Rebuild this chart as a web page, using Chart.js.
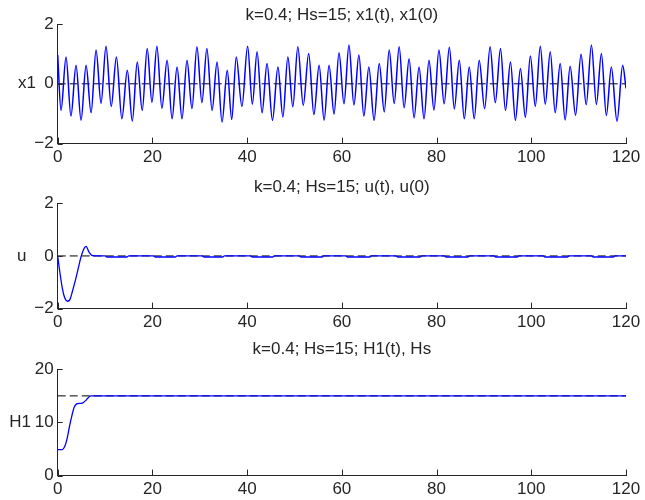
<!DOCTYPE html>
<html><head><meta charset="utf-8">
<script src="https://cdn.jsdelivr.net/npm/chart.js@4"></script>
<style>
html,body{margin:0;padding:0;background:#fff;width:645px;height:500px;overflow:hidden}
canvas{position:absolute;left:0}
</style></head><body>
<canvas id="c1" style="top:0px" width="645" height="172"></canvas>
<canvas id="c2" style="top:177px" width="645" height="160"></canvas>
<canvas id="c3" style="top:339px" width="645" height="165"></canvas>
<script>
// ---------- data ----------
const xTicks = [0, 20, 40, 60, 80, 100, 120];

const titles = ['k=0.4; Hs=15; x1(t), x1(0)', 'k=0.4; Hs=15; u(t), u(0)', 'k=0.4; Hs=15; H1(t), Hs'];
const yLabels = ['x1', 'u', 'H1'];

// x1(t): extrema of the oscillation (time, value)
const x1Time = [
  0, 0.7, 1.76, 2.8, 3.87, 4.93, 5.99, 7.05, 8.1, 9.15,
  10.2, 11.3, 12.4, 13.55, 14.7, 15.75, 16.8, 17.85, 18.9, 19.9,
  20.95, 22.0, 23.1, 24.15, 25.2, 26.25, 27.3, 28.35, 29.4, 30.45,
  31.5, 32.6, 33.65, 34.7, 35.8, 36.75, 37.7, 38.9, 40.1, 41.1,
  42.1, 43.15, 44.2, 45.35, 46.5, 47.55, 48.6, 49.65, 50.7, 51.85,
  53.0, 54.1, 55.2, 56.25, 57.3, 58.35, 59.4, 60.45, 61.5, 62.55,
  63.6, 64.65, 65.7, 66.8, 67.9, 68.95, 70.0, 71.05, 72.1, 73.15,
  74.2, 75.25, 76.3, 77.35, 78.4, 79.45, 80.5, 81.6, 82.7, 83.75,
  84.8, 85.85, 86.9, 87.95, 89.0, 90.15, 91.3, 92.4, 93.5, 94.55,
  95.6, 96.65, 97.7, 98.75, 99.8, 100.85, 101.9, 102.95, 104.0, 105.05,
  106.1, 107.15, 108.2, 109.35, 110.5, 111.6, 112.7, 113.75, 114.8, 115.85,
  116.9, 118.1, 119.3, 120
];
const x1Value = [
  0.96, -0.89, 0.90, -1.08, 0.62, -1.22, 0.62, -0.97, 1.13, -0.65,
  1.26, -0.76, 0.90, -1.17, 0.45, -1.25, 0.73, -0.89, 1.18, -0.62,
  1.26, -0.82, 0.79, -1.17, 0.56, -1.17, 0.79, -0.83, 1.24, -0.63,
  1.18, -0.89, 0.73, -1.28, 0.45, -1.19, 0.90, -0.76, 1.26, -0.68,
  1.07, -0.97, 0.68, -1.22, 0.56, -1.11, 0.90, -0.77, 1.24, -0.72,
  1.01, -1.03, 0.62, -1.22, 0.62, -1.01, 1.04, -0.67, 1.30, -0.71,
  0.96, -1.08, 0.56, -1.22, 0.68, -0.94, 1.13, -0.66, 1.24, -0.80,
  0.84, -1.14, 0.56, -1.17, 0.79, -0.88, 1.13, -0.67, 1.22, -0.84,
  0.79, -1.17, 0.56, -1.17, 0.79, -0.83, 1.24, -0.63, 1.18, -0.89,
  0.73, -1.22, 0.51, -1.12, 0.93, -0.75, 1.26, -0.68, 1.07, -0.97,
  0.68, -1.21, 0.59, -1.05, 0.99, -0.70, 1.30, -0.69, 1.01, -1.06,
  0.56, -1.25, 0.62, -0.15
];
const x1Ref = 0;

// u(t)
const uTime = [
  0, 0.4, 1.0, 1.5, 2.1, 2.6, 3.1, 3.7, 4.3, 4.9,
  5.4, 6.0, 6.6, 7.2, 8.0, 10.0, 10.4, 14.6, 15.0, 20.2,
  20.6, 24.8, 25.2, 30.5, 30.9, 34.8, 35.2, 40.7, 41.1, 45.4,
  45.8, 51.0, 51.4, 55.8, 56.2, 60.8, 61.2, 65.9, 66.3, 71.4,
  71.8, 76.5, 76.9, 81.6, 82.0, 86.6, 87.0, 92.1, 92.5, 97.0,
  97.4, 102.5, 102.9, 107.6, 108.0, 112.7, 113.1, 117.3, 117.7, 120
];
const uValue = [
  0, -0.55, -1.25, -1.6, -1.72, -1.65, -1.35, -0.95, -0.5, -0.05,
  0.22, 0.36, 0.15, 0.02, 0, 0, -0.04, -0.04, 0, 0,
  -0.04, -0.04, 0, 0, -0.04, -0.04, 0, 0, -0.04, -0.04,
  0, 0, -0.04, -0.04, 0, 0, -0.04, -0.04, 0, 0,
  -0.04, -0.04, 0, 0, -0.04, -0.04, 0, 0, -0.04, -0.04,
  0, 0, -0.04, -0.04, 0, 0, -0.04, -0.04, 0, 0
];
const uRef = 0;

// H1(t)
const hTime = [0, 1.0, 1.5, 2.0, 2.5, 3.0, 3.5, 4.0, 4.5, 5.0, 5.5, 6.0, 6.5, 7.0, 120];
const hValue = [4.9, 4.9, 5.5, 7.0, 9.3, 11.3, 12.9, 13.5, 13.6, 13.6, 13.8, 14.2, 14.7, 15.0, 15.0];
const hsRef = 15;

// ---------- styling / helpers ----------
const FONT = "'Liberation Sans', Arial, Helvetica, sans-serif";
const INK = '#262626';
const BLUE = '#0000ff';

const innerTicks = {
  id: 'innerTicks',
  afterDatasetsDraw(chart) {
    const ctx = chart.ctx, a = chart.chartArea;
    const xs = chart.scales.x, ys = chart.scales.y;
    ctx.save();
    ctx.strokeStyle = INK; ctx.lineWidth = 1;
    ctx.beginPath();
    xs.ticks.forEach(t => {
      const p = Math.round(xs.getPixelForValue(t.value)) + 0.5;
      ctx.moveTo(p, a.bottom); ctx.lineTo(p, a.bottom - 6);
    });
    ys.ticks.forEach(t => {
      const p = Math.round(ys.getPixelForValue(t.value)) + 0.5;
      ctx.moveTo(a.left, p); ctx.lineTo(a.left + 5, p);
    });
    ctx.stroke();
    ctx.restore();
  }
};

const yLabelPlugin = {
  id: 'ylabel',
  afterDraw(chart, args, opts) {
    const ctx = chart.ctx, a = chart.chartArea;
    ctx.save();
    ctx.fillStyle = INK;
    ctx.font = '17px ' + FONT;
    ctx.textAlign = 'center';
    ctx.textBaseline = 'middle';
    ctx.fillText(opts.text, opts.x, (a.top + a.bottom) / 2);
    ctx.restore();
  }
};

function pts(ts, vs) { return ts.map((t, i) => ({x: t, y: vs[i]})); }

function makeChart(id, p) {
  new Chart(document.getElementById(id), {
    type: 'line',
    data: {
      datasets: [
        {data: pts(p.t, p.v), borderColor: BLUE, borderWidth: p.lw, pointRadius: 0,
         cubicInterpolationMode: 'monotone', fill: false},
        {data: [{x: xTicks[0], y: p.ref}, {x: xTicks[xTicks.length - 1], y: p.ref}],
         borderColor: '#000', borderWidth: 1, borderDash: [8, 4], pointRadius: 0, fill: false}
      ]
    },
    options: {
      responsive: false, animation: false, devicePixelRatio: 1,
      layout: {padding: {left: 0, right: 19, top: 0, bottom: 0}},
      plugins: {
        legend: {display: false}, tooltip: {enabled: false},
        title: {display: true, text: p.title, fullSize: false, color: INK,
                font: {family: FONT, size: 17, weight: 'normal', lineHeight: 1.0},
                padding: {top: p.pt, bottom: p.pb}},
        ylabel: {text: p.ylabel, x: p.lx}
      },
      scales: {
        x: {type: 'linear', min: 0, max: 120,
            afterBuildTicks: s => { s.ticks = xTicks.map(v => ({value: v})); },
            ticks: {color: INK, font: {family: FONT, size: 17}, padding: 4, maxRotation: 0},
            grid: {display: false, drawTicks: false},
            border: {display: true, color: INK, width: 1}},
        y: {type: 'linear', min: p.yTicks[0], max: p.yTicks[p.yTicks.length - 1],
            afterBuildTicks: s => { s.ticks = p.yTicks.map(v => ({value: v})); },
            afterFit: s => { s.width = 57.7; },
            ticks: {color: INK, font: {family: FONT, size: 17}, padding: 4,
                    callback: v => v < 0 ? '\u2212' + Math.abs(v) : String(v)},
            grid: {display: false, drawTicks: false},
            border: {display: true, color: INK, width: 1}}
      }
    },
    plugins: [innerTicks, yLabelPlugin]
  });
}

makeChart('c1', {t: x1Time, v: x1Value, ref: x1Ref, yTicks: [-2, 0, 2], title: titles[0],
  ylabel: yLabels[0], lx: 27, pt: 7, pb: 0, lw: 1.5});
makeChart('c2', {t: uTime, v: uValue, ref: uRef, yTicks: [-2, 0, 2], title: titles[1],
  ylabel: yLabels[1], lx: 21.7, pt: 2, pb: 7.3, lw: 1.3});
makeChart('c3', {t: hTime, v: hValue, ref: hsRef, yTicks: [0, 10, 20], title: titles[2],
  ylabel: yLabels[2], lx: 20, pt: 2, pb: 11.3, lw: 1.3});
</script>
</body></html>
